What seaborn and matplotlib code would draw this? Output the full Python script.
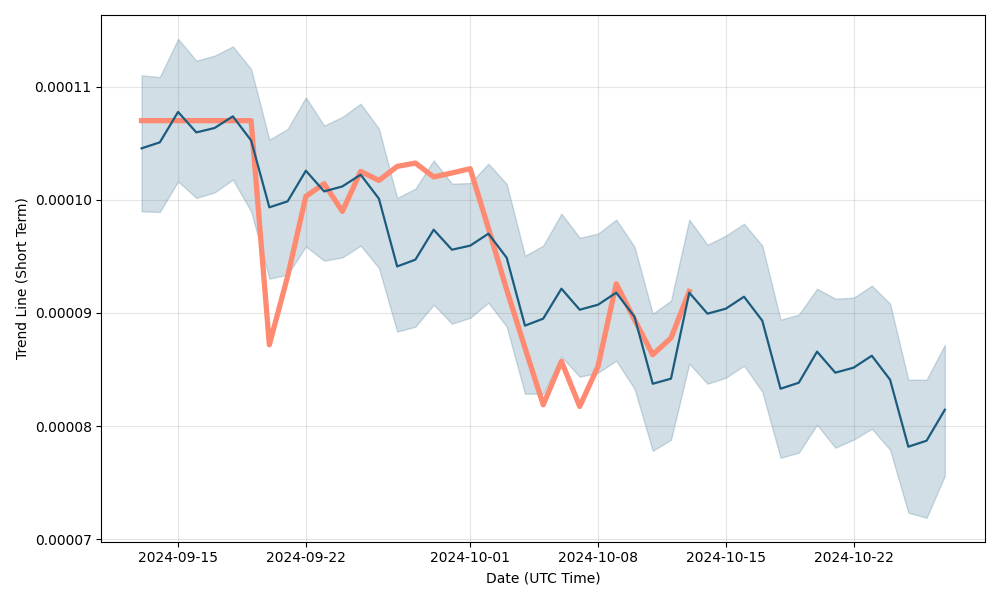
import pandas as pd
import matplotlib
matplotlib.use("Agg")
import matplotlib.pyplot as plt
import seaborn as sns

# daily dates 2024-09-13 .. 2024-10-27
dates = pd.date_range("2024-09-13", "2024-10-27", freq="D")

trend_mean = [
    104.57e-6, 105.10e-6, 107.79e-6, 105.98e-6, 106.37e-6, 107.40e-6, 105.27e-6,
    99.35e-6, 99.88e-6, 102.59e-6, 100.76e-6, 101.20e-6, 102.24e-6, 100.12e-6,
    94.12e-6, 94.72e-6, 97.37e-6, 95.60e-6, 95.96e-6, 97.02e-6, 94.89e-6,
    88.88e-6, 89.50e-6, 92.15e-6, 90.29e-6, 90.73e-6, 91.80e-6, 89.67e-6,
    83.74e-6, 84.19e-6, 91.80e-6, 89.94e-6, 90.38e-6, 91.44e-6, 89.32e-6,
    83.30e-6, 83.83e-6, 86.58e-6, 84.72e-6, 85.16e-6, 86.22e-6, 84.10e-6,
    78.17e-6, 78.70e-6, 81.44e-6,
]

trend_upper = [
    111.03e-6, 110.88e-6, 114.25e-6, 112.33e-6, 112.77e-6, 113.59e-6, 111.59e-6,
    105.34e-6, 106.28e-6, 109.08e-6, 106.58e-6, 107.35e-6, 108.52e-6, 106.31e-6,
    100.18e-6, 101.00e-6, 103.50e-6, 101.44e-6, 101.50e-6, 103.21e-6, 101.42e-6,
    95.07e-6, 95.96e-6, 98.79e-6, 96.66e-6, 97.02e-6, 98.26e-6, 95.87e-6,
    89.94e-6, 91.09e-6, 98.26e-6, 96.04e-6, 96.84e-6, 97.90e-6, 95.96e-6,
    89.41e-6, 89.85e-6, 92.15e-6, 91.27e-6, 91.35e-6, 92.42e-6, 90.82e-6,
    84.10e-6, 84.10e-6, 87.19e-6,
]

trend_lower = [
    98.99e-6, 98.94e-6, 101.65e-6, 100.18e-6, 100.67e-6, 101.80e-6, 98.99e-6,
    93.04e-6, 93.39e-6, 95.89e-6, 94.63e-6, 94.92e-6, 95.96e-6, 93.98e-6,
    88.35e-6, 88.79e-6, 90.73e-6, 89.05e-6, 89.58e-6, 90.91e-6, 88.79e-6,
    82.86e-6, 82.86e-6, 86.13e-6, 84.36e-6, 84.72e-6, 85.78e-6, 83.30e-6,
    77.81e-6, 78.79e-6, 85.51e-6, 83.74e-6, 84.27e-6, 85.34e-6, 83.04e-6,
    77.19e-6, 77.64e-6, 80.12e-6, 78.08e-6, 78.79e-6, 79.76e-6, 77.90e-6,
    72.33e-6, 71.88e-6, 75.60e-6,
]

# short term trend, only up to 2024-10-13
short_trend = [
    107.02e-6, 107.02e-6, 107.02e-6, 107.02e-6, 107.02e-6, 107.02e-6, 107.02e-6,
    87.19e-6, 93.24e-6, 100.32e-6, 101.44e-6, 98.99e-6, 102.53e-6, 101.73e-6,
    102.97e-6, 103.27e-6, 102.04e-6, 102.39e-6, 102.77e-6, 97.49e-6, 92.06e-6,
    86.93e-6, 81.88e-6, 85.72e-6, 81.73e-6, 85.27e-6, 92.59e-6, 89.41e-6,
    86.31e-6, 87.79e-6, 91.91e-6,
]


def main():
    df = pd.DataFrame({"date": dates, "mean": trend_mean,
                       "upper": trend_upper, "lower": trend_lower})
    short_df = pd.DataFrame({"date": dates[:len(short_trend)], "value": short_trend})

    line_color = "#1b5c7e"

    fig, ax = plt.subplots(figsize=(10, 6), dpi=100)
    ax.fill_between(df["date"], df["lower"], df["upper"], color=line_color, alpha=0.2)
    sns.lineplot(data=short_df, x="date", y="value", color="#ff8a72", linewidth=3.8, ax=ax)
    # mean line goes on top of the short term trend
    sns.lineplot(data=df, x="date", y="mean", color=line_color, linewidth=1.6, ax=ax, zorder=3)

    ax.grid(True, color="gray", alpha=0.2)
    ax.set_xlabel("Date (UTC Time)")
    ax.set_ylabel("Trend Line (Short Term)")

    plt.tight_layout()
    plt.savefig("out.png")


if __name__ == "__main__":
    main()
